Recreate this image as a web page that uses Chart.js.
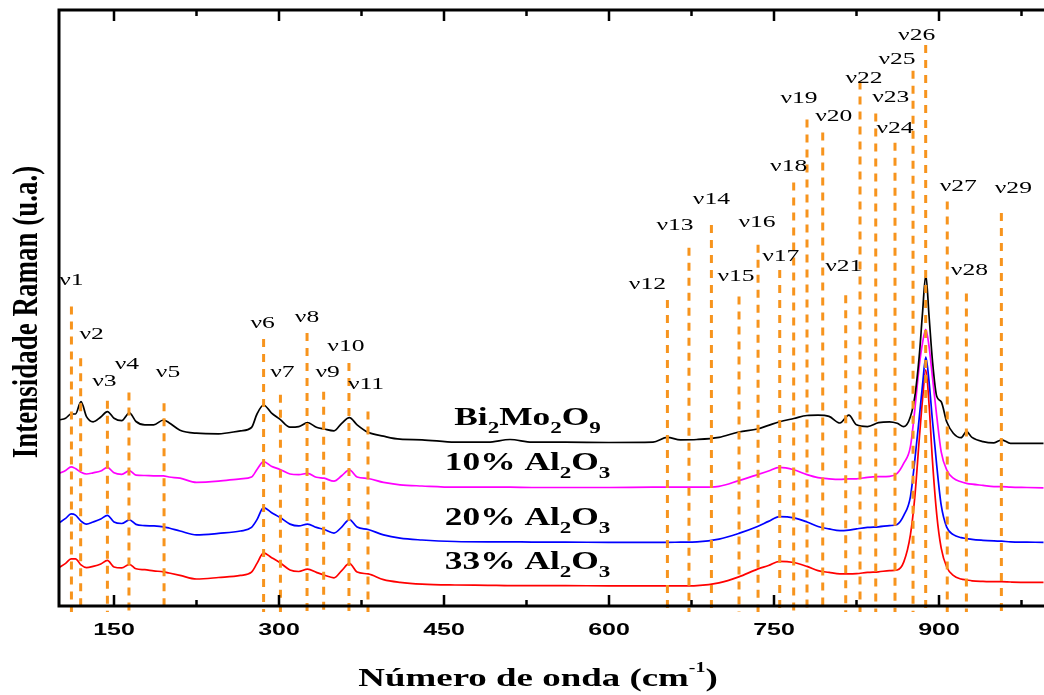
<!DOCTYPE html>
<html>
<head>
<meta charset="utf-8">
<script src="https://cdn.jsdelivr.net/npm/chart.js@4.4.1/dist/chart.umd.min.js"></script>
<style>
  html, body { margin: 0; padding: 0; background: #fff; overflow: hidden; }
  #wrap { width: 1052px; height: 695px; }
</style>
</head>
<body>
<div id="wrap"><canvas id="ramanChart"></canvas></div>
<script>
// número de onda (cm-1), grade comum às quatro curvas
const waveNumbers = [100,106,111,115,120,125,131,138,144,150,157,164,170,178,186,195,200,210,225,245,
  265,275,280,286,293,301,310,318,326,334,341,350,357,364,371,381,395,410,430,460,
  490,510,530,560,600,640,653,665,680,700,718,735,745,755,768,780,790,800,810,818,
  825,835,845,855,862,868,874,878,882,885,888,891,894,898,902,907,913,920,925,930,
  940,950,957,965,980,995];

const bi2mo2o9 = [31.0,31.3,32.0,32.0,34.05,31.55,30.7,31.5,32.4,31.3,30.9,32.2,30.75,30.2,30.2,31.0,30.55,29.3,28.8,28.7,
  29.2,29.75,32.0,33.5,32.2,31.1,29.8,29.9,30.55,29.8,29.5,29.2,30.45,31.4,30.2,28.95,28.3,27.8,27.7,27.3,
  27.3,27.75,27.3,27.3,27.25,27.3,28.1,27.7,27.75,28.1,29.0,29.5,30.1,30.7,31.25,31.75,31.8,31.6,30.5,31.8,
  30.2,29.9,30.55,30.7,30.45,29.9,31.55,34.9,41.55,48.8,55.2,48.2,41.0,34.9,34.05,30.7,28.8,28.05,29.05,28.1,
  27.4,27.2,27.7,27.1,27.1,27.1];

const al10 = [22.1,22.6,23.2,22.9,22.3,22.0,22.2,22.5,23.1,22.2,21.95,22.55,21.8,21.75,21.7,21.7,21.5,21.3,20.6,20.8,
  21.2,21.5,22.75,24.05,23.3,22.75,22.0,21.9,22.1,21.45,21.3,20.8,21.7,22.7,21.5,21.25,20.6,20.2,20.0,19.8,
  19.8,19.8,19.75,19.75,19.75,19.8,19.8,19.8,19.8,19.95,20.9,21.9,22.5,23.1,22.7,21.9,21.4,21.2,21.1,21.2,
  21.2,21.45,21.55,21.6,22.1,23.8,26.55,32.7,39.9,43.8,46.1,43.2,38.2,31.55,25.7,22.7,21.3,20.7,20.45,20.3,
  20.1,19.9,19.9,19.8,19.75,19.7];

const al20 = [13.85,14.6,15.35,15.15,14.15,13.65,14.0,14.5,15.1,14.0,13.75,14.35,13.6,13.4,13.35,13.2,13.0,12.5,11.85,12.1,
  12.5,13.1,14.4,16.4,15.6,14.75,13.65,13.35,13.65,13.1,12.75,12.15,13.15,14.4,13.15,12.75,11.85,11.3,11.0,10.75,
  10.7,10.7,10.65,10.65,10.6,10.6,10.6,10.65,10.7,11.15,12.1,13.25,14.1,14.9,14.7,14.0,13.25,12.85,12.55,12.65,
  12.85,13.1,13.2,13.4,13.6,15.1,18.2,24.3,31.3,36.8,41.5,37.3,31.0,23.3,16.8,13.15,11.9,11.4,11.25,11.1,
  10.95,10.85,10.8,10.7,10.65,10.6];

const al33 = [6.4,7.1,7.85,7.85,6.85,6.4,6.6,7.0,7.6,6.5,6.35,6.95,6.2,6.05,5.85,5.7,5.5,5.1,4.5,4.75,
  5.1,5.65,7.1,8.85,8.1,7.2,6.0,5.75,6.15,5.6,5.15,4.7,5.9,7.1,5.65,5.35,4.4,3.95,3.65,3.5,
  3.45,3.4,3.4,3.4,3.35,3.35,3.35,3.35,3.4,3.85,4.85,6.15,6.75,7.45,7.25,6.6,5.9,5.6,5.35,5.35,
  5.4,5.6,5.7,5.9,6.0,7.35,11.85,18.15,27.65,34.35,39.35,33.5,24.35,15.15,9.65,6.5,5.1,4.5,4.35,4.2,
  4.1,4.05,4.05,4.0,3.95,3.95];

// modos vibracionais (linhas tracejadas)
const peakNames = ['ν1','ν2','ν3','ν4','ν5','ν6','ν7','ν8','ν9','ν10','ν11','ν12','ν13','ν14','ν15',
  'ν16','ν17','ν18','ν19','ν20','ν21','ν22','ν23','ν24','ν25','ν26','ν27','ν28','ν29'];
const peakPositions = [111.3,119.7,144,163.6,195.5,286,301.3,325.5,340.6,363.6,380.9,653.1,672.7,693.1,718.2,
  735.5,755.2,767.9,780,794.3,815.2,828.2,842.5,860,876.4,887.9,907.5,924.9,956.7];
const peakTops = [49.9,41.3,34.2,35.6,33.8,44.5,35.2,45.5,35.7,40.5,32.4,51,59.7,63.5,51.6,
  60.2,56,70.6,81.1,78.9,51.8,87.4,82.1,77.2,89.2,93.5,67.4,52.1,65.5];

const xTicks = [150, 300, 450, 600, 750, 900];
const xMinorTicks = [225, 375, 525, 675, 825, 975];

const seriesNames = [
  [['Bi', 0], ['2', 1], ['Mo', 0], ['2', 1], ['O', 0], ['9', 1]],
  [['10% Al', 0], ['2', 1], ['O', 0], ['3', 1]],
  [['20% Al', 0], ['2', 1], ['O', 0], ['3', 1]],
  [['33% Al', 0], ['2', 1], ['O', 0], ['3', 1]]
];
const seriesColors = ['#000000', '#ff00ff', '#0000ff', '#ff0000'];
const seriesData = [bi2mo2o9, al10, al20, al33];

// deslocamento (px) do rótulo ν em relação ao topo da linha
const labelNudge = [[0,-26],[11,-23],[-3,-19],[-2,-28],[4,-30],[-1,-15],[2,-22],[0,-15],[4,-19],[-3,-16],
  [-2,-27],[-20,-15],[-14,-22],[0,-25],[-3,-20],[-1,-22],[1,-13],[-5,-16],[-8,-21],[11,-16],
  [-2,-28],[4,-3],[15,-16],[0,-14],[-16,-11],[-9,-9],[11,-15],[3,-23],[12,-24]];

const orange = '#f7941d';
const yMax = 99.33;
const plotHeightPx = 596;

// tracejado montado como trechos separados por null (8 px traço, 7 px vão)
function dashedColumn(x, top, bottom) {
  const on = 8 * yMax / plotHeightPx;
  const off = 7 * yMax / plotHeightPx;
  const pts = [];
  let y = top;
  while (y > bottom) {
    const end = Math.max(y - on, bottom);
    pts.push({x: x, y: y}, {x: x, y: end}, {x: x, y: null});
    y = end - off;
  }
  return pts;
}

const peakSets = peakPositions.map((p, i) => ({
  data: dashedColumn(p, peakTops[i], -1),
  borderColor: orange,
  borderWidth: 3,
  borderCapStyle: 'butt',
  spanGaps: false,
  pointRadius: 0,
  clip: false,
  order: 0
}));

const spectraSets = seriesData.map((arr, k) => ({
  data: waveNumbers.map((w, i) => ({x: w, y: arr[i]})),
  borderColor: seriesColors[k],
  borderWidth: 1.7,
  pointRadius: 0,
  cubicInterpolationMode: 'monotone',
  order: 1
}));

function stretchText(ctx, text, x, y, font, sx, align) {
  ctx.save();
  ctx.translate(x, y);
  ctx.scale(sx, 1);
  ctx.font = font;
  ctx.textAlign = align || 'left';
  ctx.fillText(text, 0, 0);
  ctx.restore();
}

function textWidth(ctx, text, font, sx) {
  ctx.save();
  ctx.font = font;
  const w = ctx.measureText(text).width * sx;
  ctx.restore();
  return w;
}

const decorPlugin = {
  id: 'decor',
  afterDraw(chart) {
    const ctx = chart.ctx;
    const area = chart.chartArea;
    const xs = chart.scales.x;
    const ys = chart.scales.y;

    ctx.save();
    ctx.setLineDash([]);
    ctx.strokeStyle = '#000';
    ctx.lineWidth = 3;
    ctx.beginPath();
    ctx.moveTo(area.left, area.bottom);
    ctx.lineTo(area.left, area.top);
    ctx.lineTo(area.right + 2, area.top);
    ctx.moveTo(area.left - 1.5, area.bottom);
    ctx.lineTo(area.right + 2, area.bottom);
    ctx.stroke();

    ctx.lineWidth = 2.5;
    ctx.beginPath();
    xTicks.forEach(v => {
      const px = xs.getPixelForValue(v);
      ctx.moveTo(px, area.bottom); ctx.lineTo(px, area.bottom - 11);
      ctx.moveTo(px, area.top); ctx.lineTo(px, area.top + 11);
    });
    xMinorTicks.forEach(v => {
      const px = xs.getPixelForValue(v);
      ctx.moveTo(px, area.bottom); ctx.lineTo(px, area.bottom - 6);
      ctx.moveTo(px, area.top); ctx.lineTo(px, area.top + 6);
    });
    ctx.stroke();

    ctx.fillStyle = '#000';
    ctx.textBaseline = 'alphabetic';
    xTicks.forEach(v => {
      stretchText(ctx, String(v), xs.getPixelForValue(v), area.bottom + 29,
        'bold 17px "Liberation Sans", Arial, sans-serif', 1.47, 'center');
    });

    // título do eixo x
    const tFont = 'bold 26px "Liberation Serif", "Times New Roman", serif';
    const sFont = 'bold 14px "Liberation Serif", "Times New Roman", serif';
    const t1 = 'Número de onda (cm', t2 = '-1', t3 = ')';
    const w1 = textWidth(ctx, t1, tFont, 1.42);
    const w2 = textWidth(ctx, t2, sFont, 1.42);
    const w3 = textWidth(ctx, t3, tFont, 1.42);
    const sx0 = 538 - (w1 + w2 + w3) / 2;
    stretchText(ctx, t1, sx0, 686, tFont, 1.42);
    stretchText(ctx, t2, sx0 + w1, 672, sFont, 1.42);
    stretchText(ctx, t3, sx0 + w1 + w2, 686, tFont, 1.42);

    // título do eixo y
    ctx.save();
    ctx.translate(28, 312);
    ctx.scale(1.35, 1);
    ctx.rotate(-Math.PI / 2);
    ctx.font = 'bold 27px "Liberation Serif", "Times New Roman", serif';
    ctx.textAlign = 'center';
    ctx.textBaseline = 'middle';
    ctx.fillText('Intensidade Raman (u.a.)', 0, 0);
    ctx.restore();

    // rótulos ν
    ctx.textBaseline = 'middle';
    peakNames.forEach((name, i) => {
      const px = xs.getPixelForValue(peakPositions[i]) + labelNudge[i][0];
      const py = ys.getPixelForValue(peakTops[i]) + labelNudge[i][1];
      stretchText(ctx, name, px, py, '16px "Liberation Serif", "Times New Roman", serif', 1.6, 'center');
    });

    // nomes das amostras
    ctx.textBaseline = 'alphabetic';
    const mainF = 'bold 26px "Liberation Serif", "Times New Roman", serif';
    const subF = 'bold 17px "Liberation Serif", "Times New Roman", serif';
    const labelAt = 526;
    const idx = waveNumbers.indexOf(530);
    seriesNames.forEach((parts, k) => {
      const sxx = 1.36;
      let total = 0;
      parts.forEach(p => { total += textWidth(ctx, p[0], p[1] ? subF : mainF, sxx); });
      let cx = xs.getPixelForValue(labelAt) - total / 2;
      const base = ys.getPixelForValue(seriesData[k][idx]) - 17;
      parts.forEach(p => {
        const f = p[1] ? subF : mainF;
        stretchText(ctx, p[0], cx, p[1] ? base + 8 : base, f, sxx);
        cx += textWidth(ctx, p[0], f, sxx);
      });
    });
    ctx.restore();
  }
};

const ramanChart = new Chart(document.getElementById('ramanChart'), {
  type: 'line',
  data: { datasets: peakSets.concat(spectraSets) },
  options: {
    responsive: true,
    maintainAspectRatio: false,
    animation: false,
    devicePixelRatio: 1,
    layout: { padding: { left: 59, right: 3, top: 10, bottom: 89 } },
    plugins: { legend: { display: false }, tooltip: { enabled: false } },
    scales: {
      x: { type: 'linear', min: 100, max: 1000, display: false },
      y: { min: 0, max: yMax, display: false }
    }
  },
  plugins: [decorPlugin]
});
</script>
</body>
</html>
